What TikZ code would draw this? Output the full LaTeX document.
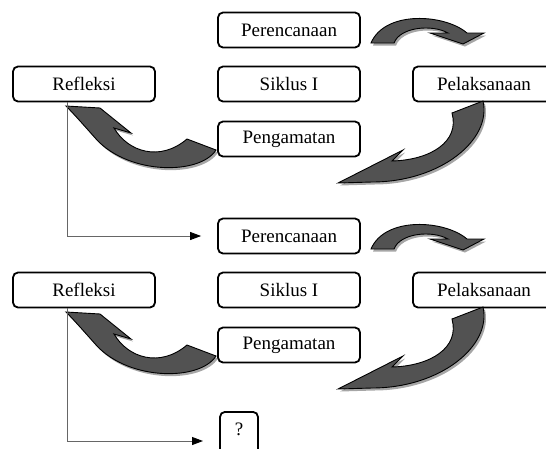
\documentclass[tikz,border=0pt]{standalone}
\usepackage{fontspec}
\setmainfont{Liberation Serif}
\usetikzlibrary{arrows.meta,shadows}
\begin{document}
\begin{tikzpicture}[x=1pt,y=-1pt,
  stagebox/.style={draw=black, line width=1.8pt, rounded corners=5pt, minimum width=142pt, minimum height=35pt, inner sep=2pt, font=\fontsize{19}{22}\selectfont, fill=white},
  blockarrow/.style={fill=black!68, draw=black, line width=0.9pt, line join=miter,
    drop shadow={shadow xshift=2pt, shadow yshift=-2.5pt, opacity=0.35, fill=black}},
  conn/.style={draw=black!60, line width=0.9pt, -{Triangle[length=11pt,width=8pt,fill=black,color=black]}}
]
\path[use as bounding box] (0,0) rectangle (546,448);
\clip (0,0) rectangle (546,448);

% ---------- cycle 1 ----------
\node[stagebox] (p1) at (289,30) {Perencanaan};
\node[stagebox] (s1) at (289,84) {Siklus I};
\node[stagebox] (g1) at (289,139) {Pengamatan};
\node[stagebox] (r1) at (84,84) {Refleksi};
\node[stagebox] (l1) at (484,84) {Pelaksanaan};

% ---------- cycle 2 ----------
\node[stagebox] (p2) at (289,236) {Perencanaan};
\node[stagebox] (s2) at (289,290) {Siklus I};
\node[stagebox] (g2) at (289,345) {Pengamatan};
\node[stagebox] (r2) at (84,290) {Refleksi};
\node[stagebox] (l2) at (484,290) {Pelaksanaan};

\node[stagebox, minimum width=38pt, minimum height=0pt, text height=20pt, text depth=22pt, inner ysep=4pt, anchor=north] (q) at (239,411) {?};

% ---------- curved block arrows ----------
\foreach \dy in {0,206}{
\begin{scope}[shift={(0,\dy)}]
  % Perencanaan -> Pelaksanaan
  \path[blockarrow] (371,43) -- (394,43) .. controls (400,27) and (432,24) .. (448,33)
     -- (430,33) -- (463,44) -- (484,33) -- (467,33)
     .. controls (445,14) and (385,10) .. (371,43) -- cycle;
  % Pelaksanaan -> Pengamatan
  \path[blockarrow] (452,113) -- (483,101) .. controls (492,140) and (440,182) .. (372,182)
     -- (338,183) -- (403,150) -- (392,161)
     .. controls (430,160) and (460,142) .. (452,113) -- cycle;
  % Pengamatan -> Refleksi
  \path[blockarrow] (187,139) -- (216,150) .. controls (200,175) and (130,175) .. (97,140)
     .. controls (88,130) and (75,115) .. (66,106) -- (100,108) -- (131,133) -- (114,128)
     .. controls (128,152) and (160,162) .. (187,139) -- cycle;
\end{scope}
}

% ---------- connectors ----------
\coordinate (k1) at (67,0);
\coordinate (e2) at (203,441);
\draw[conn] (r1.south -| k1) |- ([xshift=-16pt]p2.west);
\draw[conn] (r2.south -| k1) |- (e2);
\end{tikzpicture}
\end{document}
